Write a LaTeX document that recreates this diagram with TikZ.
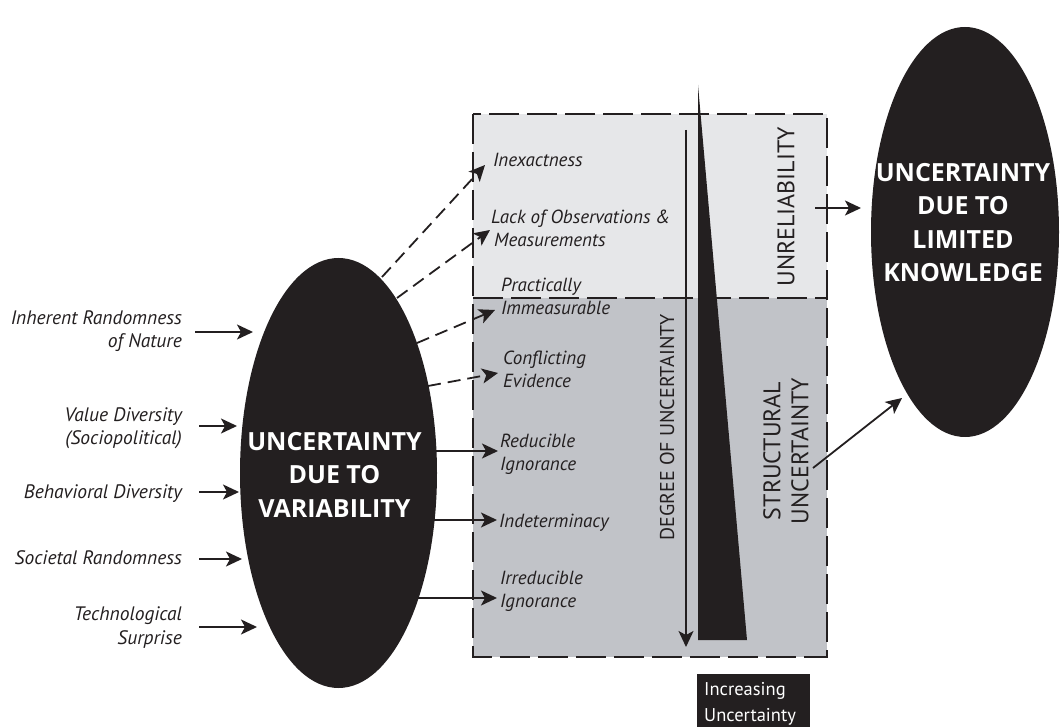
\documentclass[tikz,border=0pt]{standalone}
\usepackage{fontspec}
\setmainfont{PT Sans}
\newfontfamily\heavysans{Open Sans}
\usetikzlibrary{arrows.meta,shapes.geometric}
\definecolor{ink}{HTML}{231F20}
\definecolor{lightbox}{HTML}{E6E7E9}
\definecolor{darkbox}{HTML}{C1C3C8}
\tikzset{
  itemtxt/.style={font=\fontsize{19}{23}\selectfont\itshape, text=ink, inner sep=0pt, align=left, anchor=base west},
  srctxt/.style={font=\fontsize{19.5}{23.5}\selectfont\itshape, text=ink, inner sep=0pt, align=right, anchor=base east},
  bigtxt/.style={font=\heavysans\fontsize{25}{33.5}\selectfont\bfseries, text=white, align=center, inner sep=0pt, anchor=base},
  vtxt/.style={font=\fontsize{24}{28}\selectfont, text=ink, rotate=90, inner sep=0pt, align=center},
  arr/.style={-{Stealth[length=16pt,width=15pt,inset=4pt]}, line width=1.8pt, draw=ink},
  darr/.style={arr, dash pattern=on 13pt off 7pt},
  blob/.style={ellipse, fill=ink, draw=none, inner sep=0pt},
  border/.style={draw=ink, line width=1.6pt, dash pattern=on 30pt off 8pt},
}
\begin{document}
\begin{tikzpicture}[x=1pt,y=-1pt]
\useasboundingbox (0,0) rectangle (1061,727);

% box
\fill[lightbox] (473,114) rectangle (827,298);
\fill[darkbox] (473,298) rectangle (827,657);
\draw[border] (473,114) rectangle (827,657);
\draw[border] (473,298) -- (827,298);

% ellipses
\node[blob, minimum width=197pt, minimum height=430pt] (var) at (338.5,473) {};
\node[bigtxt] (vartxt) at (334.5,517) {UNCERTAINTY\\DUE TO\\VARIABILITY};
\node[blob, minimum width=188pt, minimum height=410pt] (know) at (965,232) {};
\node[bigtxt] (knowtxt) at (963,282) {UNCERTAINTY\\DUE TO\\LIMITED\\KNOWLEDGE};

% wedge and degree arrow
\fill[ink] (698,85) -- (747,640) -- (698,640) -- cycle;
\coordinate (degtop) at (686,130);
\coordinate (degbot) at (686,647);
\draw[arr, line width=1.5pt] (degtop) -- (degbot);
\node[vtxt, font=\fontsize{20}{24}\selectfont] (deg) at (667,427.5) {DEGREE OF UNCERTAINTY};
\node[vtxt] (unrel) at (786,207) {UNRELIABILITY};
\node[vtxt] (struct) at (786,451) {STRUCTURAL\\UNCERTAINTY};

% increasing uncertainty box
\fill[ink] (697,674) rectangle (810,727);
\node[text=white, font=\fontsize{18.5}{26}\selectfont, align=left, anchor=base west, inner sep=0pt] (incr) at (704,721)
      {Increasing\\Uncertainty};

% left source labels
\node[srctxt] (inh) at (182,348) {Inherent Randomness\\of Nature};
\node[srctxt] (val) at (182,445) {Value Diversity\\(Sociopolitical)};
\node[srctxt] (beh) at (182,498) {Behavioral Diversity};
\node[srctxt] (soc) at (182,564) {Societal Randomness};
\node[srctxt] (tec) at (182,644) {Technological\\Surprise};

\coordinate (inhA) at (195,332);  \coordinate (inhB) at (253,332);
\coordinate (valA) at (199,426);  \coordinate (valB) at (237,426);
\coordinate (behA) at (199,492);  \coordinate (behB) at (239,492);
\coordinate (socA) at (199,559);  \coordinate (socB) at (242,559);
\coordinate (tecA) at (199,627);  \coordinate (tecB) at (257,627);
\draw[arr] (inhA) -- (inhB);
\draw[arr] (valA) -- (valB);
\draw[arr] (behA) -- (behB);
\draw[arr] (socA) -- (socB);
\draw[arr] (tecA) -- (tecB);

% items in box
\node[itemtxt] (inex) at (493,167) {Inexactness};
\node[itemtxt] (lack) at (491,247) {Lack of Observations \&\\\hspace*{3pt}Measurements};
\node[itemtxt] (prac) at (501,315) {Practically\\Immeasurable};
\node[itemtxt] (conf) at (503,388) {Conflicting\\Evidence};
\node[itemtxt] (redu) at (500,470) {Reducible\\Ignorance};
\node[itemtxt] (inde) at (499,527) {Indeterminacy};
\node[itemtxt] (irre) at (500,607) {Irreducible\\Ignorance};

\coordinate (d1a) at (382,277); \coordinate (d1b) at (485,165);
\coordinate (d2a) at (397,298); \coordinate (d2b) at (490,230);
\coordinate (d3a) at (417,343); \coordinate (d3b) at (495,310);
\coordinate (d4a) at (428,386); \coordinate (d4b) at (498,373);
\draw[darr] (d1a) -- (d1b);
\draw[darr] (d2a) -- (d2b);
\draw[darr] (d3a) -- (d3b);
\draw[darr] (d4a) -- (d4b);

\coordinate (s1a) at (436,451); \coordinate (s1b) at (498,451);
\coordinate (s2a) at (432,520); \coordinate (s2b) at (497,520);
\coordinate (s3a) at (418,598); \coordinate (s3b) at (497,598);
\draw[arr] (s1a) -- (s1b);
\draw[arr] (s2a) -- (s2b);
\draw[arr] (s3a) -- (s3b);

% to limited knowledge
\coordinate (u1a) at (815,208); \coordinate (u1b) at (861,208);
\coordinate (u2a) at (813,468); \coordinate (u2b) at (902,398);
\draw[arr] (u1a) -- (u1b);
\draw[arr] (u2a) -- (u2b);
\end{tikzpicture}
\end{document}
